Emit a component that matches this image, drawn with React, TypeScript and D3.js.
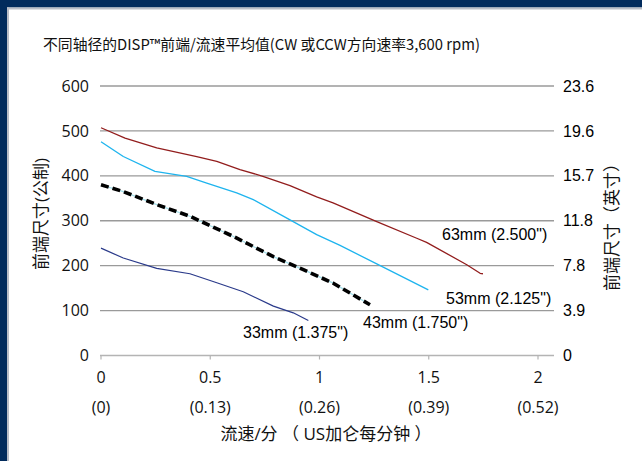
import React, { useEffect, useRef } from "react";
import * as d3 from "d3";

// flow in US gal/min, front-end size in mm
const flow63 = [0, 0.11, 0.255, 0.438, 0.53, 0.636, 0.741, 0.865, 0.987, 1.062, 1.262, 1.445, 1.49, 1.674, 1.735, 1.748];
const size63 = [507, 484, 462, 443, 432, 414, 399, 378, 353, 340, 298, 261, 252, 202, 183, 182];

const flow53 = [0, 0.102, 0.247, 0.392, 0.484, 0.621, 0.697, 0.865, 0.987, 1.094, 1.262, 1.498];
const size53 = [476, 443, 410, 399, 384, 362, 347, 302, 269, 245, 204, 146];

const flow43 = [0, 0.102, 0.255, 0.407, 0.606, 0.789, 0.926, 1.063, 1.231];
const size43 = [380, 365, 336, 310, 265, 220, 191, 161, 113];

const flow33 = [0, 0.102, 0.255, 0.407, 0.53, 0.651, 0.789, 0.88, 0.949];
const size33 = [239, 217, 194, 182, 162, 142, 110, 95, 78];

const seriesLabels = ['63mm (2.500")', '53mm (2.125")', '43mm (1.750")', '33mm (1.375")'];

const xTicks = [0, 0.5, 1, 1.5, 2];
const xTicksLps = ["(0)", "(0.13)", "(0.26)", "(0.39)", "(0.52)"];
const yTicks = [0, 100, 200, 300, 400, 500, 600];
const yTicksInch = ["0", "3.9", "7.8", "11.8", "15.7", "19.6", "23.6"];

const title = "不同轴径的DISP™前端/流速平均值(CW 或CCW方向速率3,600 rpm)";

const W = 642;
const H = 461;
const sans = "'Open Sans', 'Noto Sans CJK SC', sans-serif";
const cjk = "'Noto Sans CJK SC', sans-serif";
const arial = "'Liberation Sans', Arial, sans-serif";

const App = () => {
  const svgRef = useRef<SVGSVGElement>(null);

  useEffect(() => {
    const svg = d3.select(svgRef.current);
    svg.selectAll("*").remove();

    const x = d3.scaleLinear().domain([0, 2]).range([101, 538]);
    const y = d3.scaleLinear().domain([0, 600]).range([355.5, 86]);
    const plotLeft = 100;
    const plotRight = 554;

    // frame
    svg.append("rect").attr("width", W).attr("height", H).attr("fill", "#fff");
    svg.append("rect").attr("x", 0).attr("y", 0).attr("width", W).attr("height", 7.5).attr("fill", "#012b5c");
    svg.append("rect").attr("x", 0).attr("y", 0).attr("width", 7).attr("height", H).attr("fill", "#012b5c");
    svg.append("rect").attr("x", 7).attr("y", 7.5).attr("width", W).attr("height", 2).attr("fill", "#b9bdc6");
    svg.append("rect").attr("x", 7).attr("y", 7.5).attr("width", 2).attr("height", H).attr("fill", "#b9bdc6");

    // title
    svg.append("text")
      .attr("x", 43)
      .attr("y", 50)
      .attr("textLength", 437)
      .attr("lengthAdjust", "spacingAndGlyphs")
      .style("font-family", cjk)
      .style("font-size", "15px")
      .style("fill", "#111")
      .text(title);

    // grid lines
    svg.append("g")
      .selectAll("line")
      .data(yTicks.filter((d) => d > 0))
      .enter()
      .append("line")
      .attr("x1", plotLeft)
      .attr("x2", plotRight)
      .attr("y1", (d) => y(d))
      .attr("y2", (d) => y(d))
      .attr("stroke", "#9a9a9a")
      .attr("stroke-width", 1.4);

    // x axis line + ticks
    svg.append("line")
      .attr("x1", plotLeft)
      .attr("x2", plotRight)
      .attr("y1", y(0))
      .attr("y2", y(0))
      .attr("stroke", "#b4b4b4")
      .attr("stroke-width", 1.6);
    svg.append("g")
      .selectAll("line")
      .data(xTicks)
      .enter()
      .append("line")
      .attr("x1", (d) => x(d))
      .attr("x2", (d) => x(d))
      .attr("y1", y(0))
      .attr("y2", y(0) + 4)
      .attr("stroke", "#b4b4b4")
      .attr("stroke-width", 1.2);

    // left tick labels
    svg.append("g")
      .selectAll("text")
      .data(yTicks)
      .enter()
      .append("text")
      .attr("x", 89)
      .attr("y", (d) => y(d))
      .attr("dy", "0.35em")
      .attr("text-anchor", "end")
      .style("font-family", sans)
      .style("font-size", "16px")
      .style("fill", "#111")
      .text((d) => d);

    // right tick labels (inches)
    svg.append("g")
      .selectAll("text")
      .data(yTicks)
      .enter()
      .append("text")
      .attr("x", 563)
      .attr("y", (d) => y(d))
      .attr("dy", "0.35em")
      .style("font-family", arial)
      .style("font-size", "16px")
      .style("fill", "#000")
      .text((d, i) => yTicksInch[i]);

    // x tick labels, two rows
    svg.append("g")
      .selectAll("text")
      .data(xTicks)
      .enter()
      .append("text")
      .attr("x", (d) => x(d))
      .attr("y", 383)
      .attr("text-anchor", "middle")
      .style("font-family", sans)
      .style("font-size", "16px")
      .style("fill", "#111")
      .text((d) => d);
    svg.append("g")
      .selectAll("text")
      .data(xTicks)
      .enter()
      .append("text")
      .attr("x", (d) => x(d))
      .attr("y", 413)
      .attr("text-anchor", "middle")
      .style("font-family", sans)
      .style("font-size", "16px")
      .style("fill", "#111")
      .text((d, i) => xTicksLps[i]);

    // axis titles
    svg.append("text")
      .attr("x", 326)
      .attr("y", 440)
      .attr("text-anchor", "middle")
      .style("font-family", sans)
      .style("font-size", "17px")
      .style("fill", "#111")
      .text("流速/分 （ US加仑每分钟 ）");
    svg.append("text")
      .attr("transform", "translate(47, 214) rotate(-90)")
      .attr("text-anchor", "middle")
      .style("font-family", sans)
      .style("font-size", "17px")
      .style("fill", "#111")
      .text("前端尺寸(公制)");
    svg.append("text")
      .attr("transform", "translate(618, 223) rotate(-90)")
      .attr("text-anchor", "middle")
      .style("font-family", sans)
      .style("font-size", "17px")
      .style("fill", "#111")
      .text("前端尺寸（英寸）");

    const line = d3
      .line<[number, number]>()
      .x((d) => x(d[0]))
      .y((d) => y(d[1]));
    const pts = (fs: number[], ss: number[]) => fs.map((f, i) => [f, ss[i]] as [number, number]);

    const drawLine = (data: [number, number][], color: string, w: number, dash?: string) => {
      const p = svg.append("path")
        .datum(data)
        .attr("fill", "none")
        .attr("stroke", color)
        .attr("stroke-width", w)
        .attr("stroke-linejoin", "round")
        .attr("d", line);
      if (dash) p.attr("stroke-dasharray", dash);
    };

    drawLine(pts(flow63, size63), "#921d1d", 1.3);
    drawLine(pts(flow53, size53), "#1eb4ee", 1.3);
    drawLine(pts(flow33, size33), "#2a3a8a", 1.2);
    drawLine(pts(flow43, size43), "#a6dfea", 1.3);
    drawLine(pts(flow43, size43), "#000", 3.6, "8,4");

    // series labels
    const labelPos = [
      [442, 240],
      [446, 304],
      [363, 328],
      [243, 338],
    ];
    svg.append("g")
      .selectAll("text")
      .data(seriesLabels)
      .enter()
      .append("text")
      .attr("x", (d, i) => labelPos[i][0])
      .attr("y", (d, i) => labelPos[i][1])
      .style("font-family", arial)
      .style("font-size", "16px")
      .style("fill", "#000")
      .text((d) => d);
  }, []);

  return (
    <div style={{ position: "absolute", left: 0, top: 0 }}>
      <svg ref={svgRef} width={W} height={H} style={{ display: "block" }}></svg>
    </div>
  );
};

export default App;
